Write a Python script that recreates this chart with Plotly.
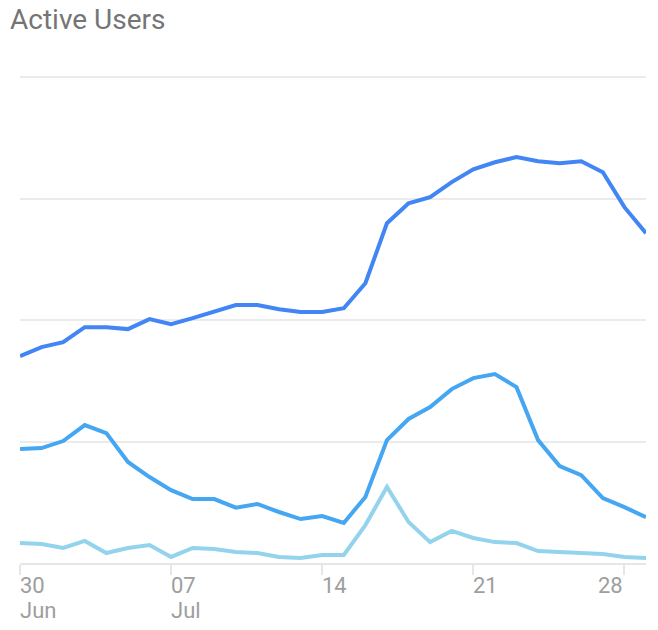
import plotly.graph_objects as go
import pandas as pd

dates = pd.date_range("2024-06-30", "2024-07-29", freq="D")

series_a = [852, 889, 909, 971, 971, 963, 1004, 983, 1008, 1037, 1062, 1062, 1045, 1033, 1033,
            1049, 1152, 1399, 1481, 1506, 1568, 1621, 1650, 1671, 1654, 1646, 1654, 1609, 1465, 1358]
series_b = [469, 473, 502, 568, 535, 416, 354, 300, 263, 263, 228, 243, 210, 181, 193,
            165, 272, 506, 593, 642, 716, 761, 778, 724, 506, 399, 362, 267, 230, 189]
series_c = [82, 78, 62, 91, 41, 62, 74, 25, 62, 58, 45, 41, 25, 21, 33,
            33, 156, 313, 169, 86, 132, 103, 86, 82, 49, 45, 37, 37, 25, 21]

series_names = ["30 Days", "7 Days", "1 Day"]
series_colors = ["#4285f4", "#45a6f2", "#93d4ec"]

tick_dates = ["2024-06-30", "2024-07-07", "2024-07-14", "2024-07-21", "2024-07-28"]
tick_days = ["30", "07", "14", "21", "28"]
tick_months = ["Jun", "Jul", "", "", ""]
y_grid = [0, 500, 1000, 1500, 2000]

fig = go.Figure()
for name, vals, col in [(series_names[2], series_c, series_colors[2]),
                        (series_names[1], series_b, series_colors[1]),
                        (series_names[0], series_a, series_colors[0])]:
    fig.add_trace(go.Scatter(x=dates, y=vals, mode="lines", name=name,
                             line=dict(color=col, width=4), hoverinfo="skip"))

# page body has an 8px margin; figure is sized to fit inside the window
W, H = 650, 622
L, R, T, B = 12, 12, 68, 67
Y_TOP = 2005

fig.update_layout(
    width=W, height=H,
    margin=dict(l=L, r=R, t=T, b=B),
    paper_bgcolor="white", plot_bgcolor="white",
    showlegend=False,
    font=dict(family="Roboto", color="#9e9e9e"),
    title=dict(text="Active Users", x=2 / W, xanchor="left", xref="container",
               y=1 - 11 / H, yanchor="middle", yref="container",
               font=dict(family="Roboto", size=28, color="#757575")),
    xaxis=dict(range=[dates[0], dates[-1]], showgrid=False, zeroline=False,
               showline=True, linecolor="#e6e6e6", linewidth=2,
               tickvals=tick_dates, ticktext=["" for _ in tick_dates],
               ticks="outside", ticklen=10, tickwidth=2, tickcolor="#e6e6e6"),
    yaxis=dict(range=[0, Y_TOP], showgrid=True, gridcolor="#ebebeb", gridwidth=2,
               tickvals=y_grid[1:], showticklabels=False, zeroline=False, showline=False),
)

plot_w = W - L - R
n = len(tick_dates)
for i, (d, day, mon) in enumerate(zip(tick_dates, tick_days, tick_months)):
    last = i == n - 1
    anchor = "right" if last else "left"
    shift = 1 if last else -2
    fig.add_annotation(x=d, y=0, xref="x", yref="paper", text=day, showarrow=False,
                       xanchor=anchor, yanchor="top", xshift=shift, yshift=-8,
                       font=dict(family="Roboto", size=22, color="#9e9e9e"))
    if mon:
        fig.add_annotation(x=d, y=0, xref="x", yref="paper", text=mon, showarrow=False,
                           xanchor=anchor, yanchor="top", xshift=shift, yshift=-33,
                           font=dict(family="Roboto", size=22, color="#9e9e9e"))

for v in y_grid:
    fig.add_shape(type="line", xref="paper", yref="y",
                  x0=1 + 8 / plot_w, x1=1 + 14 / plot_w, y0=v, y1=v,
                  line=dict(color="#ebebeb", width=2))

fig.write_html("out.html")
